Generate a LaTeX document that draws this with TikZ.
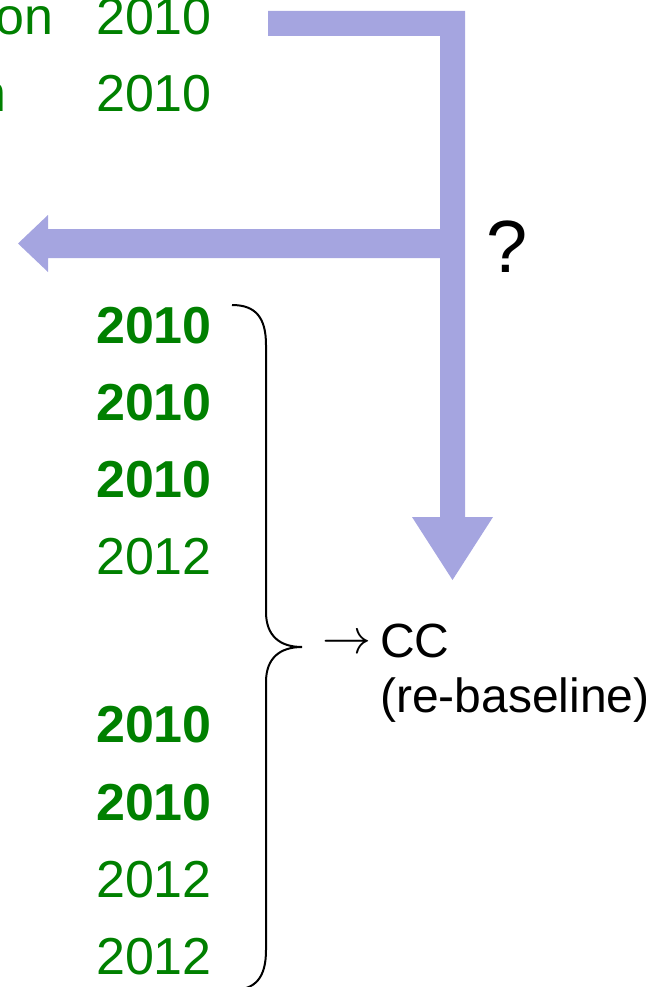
\documentclass[tikz,border=0pt]{standalone}
\usepackage{fontspec}
\setmainfont{Liberation Sans}
\usetikzlibrary{positioning}
\definecolor{barblue}{RGB}{165,165,224}
\definecolor{yeargreen}{RGB}{0,128,0}

\begin{document}
\begin{tikzpicture}[x=1pt,y=-1pt,
    year/.style={anchor=base east,inner sep=0pt,text=yeargreen,font=\fontsize{52}{60}\selectfont},
    boldyear/.style={year,font=\fontsize{52}{60}\selectfont\bfseries},
    note/.style={anchor=base west,inner sep=0pt,font=\fontsize{48}{56}\selectfont}]
    \useasboundingbox (0,0) rectangle (654,987);
    \clip (0,0) rectangle (654,987);

    % big arrows
    \fill[barblue] (268,11) -- (465,11) -- (465,517) -- (493,517) -- (452.5,580)
        -- (412,517) -- (440,517) -- (440,36) -- (268,36) -- cycle;
    \fill[barblue] (440,229) -- (48,229) -- (48,215) -- (18,243.5) -- (48,272)
        -- (48,258) -- (440,258) -- cycle;
    \node[note,font=\fontsize{74}{80}\selectfont] (query) at (486,272) {?};

    % cut-off words on the left
    \node[year] (wa) at (54,35) {on};
    \node[year] (wb) at (7,112) {n};

    % years
    \node[year] (ya) at (212,35) {2010};
    \node[year] (yb) at (212,112) {2010};
    \node[boldyear] (yc) at (212,343) {2010};
    \node[boldyear] (yd) at (212,420) {2010};
    \node[boldyear] (ye) at (212,497) {2010};
    \node[year] (yf) at (212,574) {2012};
    \node[boldyear] (yg) at (212,742) {2010};
    \node[boldyear] (yh) at (212,820) {2010};
    \node[year] (yi) at (212,897) {2012};
    \node[year] (yj) at (212,974) {2012};

    % brace
    \draw[line width=2pt] (232,305) .. controls (256,305) and (266,318) .. (266,345)
        -- (266,612) .. controls (266,636) and (280,647) .. (302,647)
        .. controls (280,647) and (266,658) .. (266,682)
        -- (266,950) .. controls (266,977) and (256,990) .. (232,990);

    % outcome
    \node[note] (cc) at (380,657) {CC};
    \node[note,font=\normalsize] (arr) at (322,653) {\scalebox{4.9}{$\rightarrow$}};
    \node[note] (rebase) at (380,712) {(re-baseline)};
\end{tikzpicture}
\end{document}
